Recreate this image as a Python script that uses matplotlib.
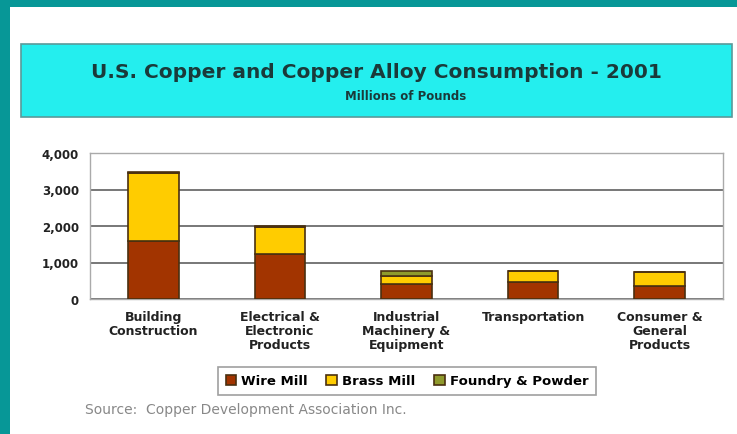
import numpy as np
import matplotlib
matplotlib.use('Agg')
import matplotlib.pyplot as plt
from matplotlib.patches import Rectangle

# data (millions of pounds)
categories = ['Building\nConstruction', 'Electrical &\nElectronic\nProducts',
              'Industrial\nMachinery &\nEquipment', 'Transportation',
              'Consumer &\nGeneral\nProducts']
wire_mill = [1590, 1230, 410, 465, 360]
brass_mill = [1850, 740, 220, 300, 380]
foundry_powder = [40, 30, 140, 5, 5]
series_names = ['Wire Mill', 'Brass Mill', 'Foundry & Powder']
y_ticks = [0, 1000, 2000, 3000, 4000]

plt.rcParams['font.family'] = ['DejaVu Sans']

W, H = 737, 435
fig = plt.figure(figsize=(W / 100, H / 100), dpi=100)
fig.patch.set_facecolor('white')

# teal frame on left and top
fig.patches.append(Rectangle((0, 0), 10 / W, 1, transform=fig.transFigure,
                             facecolor='#079797', edgecolor='none', zorder=0))
fig.patches.append(Rectangle((0, 1 - 8 / H), 1, 8 / H, transform=fig.transFigure,
                             facecolor='#079797', edgecolor='none', zorder=0))

# title box
fig.patches.append(Rectangle((21 / W, 1 - 118 / H), 711 / W, 73 / H,
                             transform=fig.transFigure, facecolor='#24eeee',
                             edgecolor='#5a9a9a', linewidth=1.2, zorder=1))
fig.text(376 / W, 1 - 73 / H, 'U.S. Copper and Copper Alloy Consumption - 2001',
         ha='center', va='center', fontsize=14.5, fontweight='bold', color='#1a3a3a')
fig.text(406 / W, 1 - 97 / H, 'Millions of Pounds', ha='center', va='center',
         fontsize=8.5, fontweight='bold', color='#1a3a3a')

ax = fig.add_axes([90 / W, 1 - 300 / H, 633 / W, 146 / H])
x = np.arange(len(categories))
bw = 0.4
colors = ['#a23400', '#ffcc00', '#8f9a2c']
bottom = np.zeros(len(categories))
for vals, name, c in zip([wire_mill, brass_mill, foundry_powder], series_names, colors):
    ax.bar(x, vals, bw, bottom=bottom, color=c, edgecolor='#4a3010',
           linewidth=1.2, label=name, zorder=3)
    bottom += np.array(vals)

ax.set_xlim(-0.5, len(categories) - 0.5)
ax.set_ylim(0, 4000)
ax.set_yticks(y_ticks)
ax.set_yticklabels([f'{v:,}' for v in y_ticks], fontsize=8.5, fontweight='bold')
ax.set_xticks(x)
ax.set_xticklabels(categories, fontsize=9, fontweight='bold', linespacing=1.1)
ax.tick_params(axis='both', length=0, pad=8, colors='#222222')
ax.yaxis.grid(True, color='#777777', linewidth=1.4, zorder=0)
for s in ax.spines.values():
    s.set_color('#aaaaaa')
    s.set_linewidth(1)

leg = fig.legend(loc='center', bbox_to_anchor=(407 / W, 1 - 382 / H), ncol=3,
                 frameon=True, handlelength=0.8, handleheight=0.8,
                 handletextpad=0.4, columnspacing=1.4, borderpad=0.3,
                 prop={'weight': 'bold', 'size': 9.5})
leg.get_frame().set_edgecolor('#888888')
leg.get_frame().set_linewidth(1.2)
leg.get_frame().set_boxstyle('square')

fig.text(85 / W, 1 - 410 / H, 'Source:  Copper Development Association Inc.',
         ha='left', va='center', fontsize=10, color='#888888')

fig.savefig('out.png', dpi=100, facecolor='white')
